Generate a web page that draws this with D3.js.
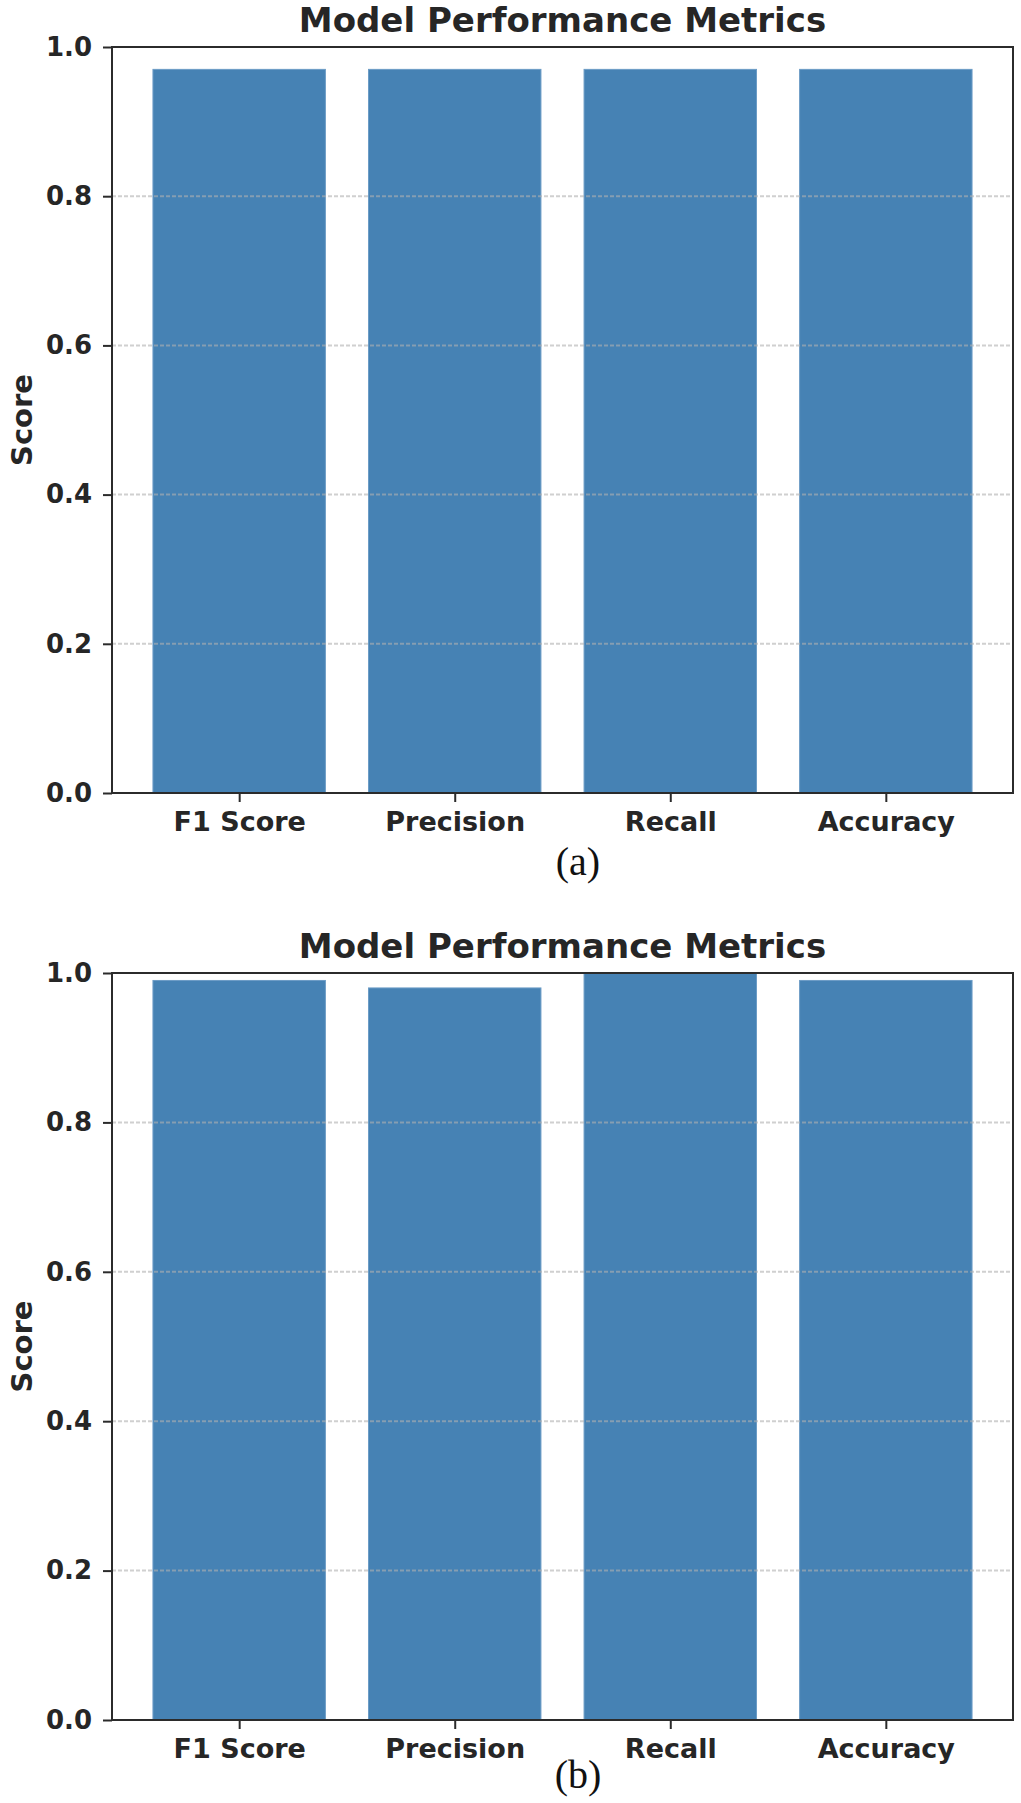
<!DOCTYPE html>
<html>
<head>
<meta charset="utf-8">
<script src="https://cdn.jsdelivr.net/npm/d3@7"></script>
<style>
  html, body { margin: 0; padding: 0; background: #fff; }
  svg { display: block; }
</style>
</head>
<body>
<svg id="chart" width="1021" height="1803"></svg>
<script>
const categories = ["F1 Score", "Precision", "Recall", "Accuracy"];
const scoresA = [0.97, 0.97, 0.97, 0.97];
const scoresB = [0.99, 0.98, 1.0, 0.99];
const yTicks = [0.0, 0.2, 0.4, 0.6, 0.8, 1.0];
const gridTicks = [0.2, 0.4, 0.6, 0.8];
const chartTitle = "Model Performance Metrics";
const yLabel = "Score";
const panelLabels = ["(a)", "(b)"];

const svg = d3.select("#chart");
const barColor = "#4682b4";
const axisColor = "#2b2b2b";
const textColor = "#262626";
const font = "'DejaVu Sans', sans-serif";

const panels = [
  { values: scoresA, label: panelLabels[0], top: 47, bottom: 793, labelY: 875 },
  { values: scoresB, label: panelLabels[1], top: 973, bottom: 1720, labelY: 1788 }
];

const left = 112, right = 1013;

panels.forEach(p => {
  const g = svg.append("g");
  const x = d3.scaleLinear().domain([-0.59, categories.length - 1 + 0.59]).range([left, right]);
  const y = d3.scaleLinear().domain([0, 1]).range([p.bottom, p.top]);

  // bars
  g.selectAll("rect.bar").data(p.values).enter().append("rect")
    .attr("class", "bar")
    .attr("x", (d, i) => x(i - 0.4))
    .attr("width", (d, i) => x(i + 0.4) - x(i - 0.4))
    .attr("y", d => y(d))
    .attr("height", d => y(0) - y(d))
    .attr("fill", barColor)
    .attr("stroke", "#6c9cc6")
    .attr("stroke-width", 1);

  // grid
  g.selectAll("line.grid").data(gridTicks).enter().append("line")
    .attr("x1", left).attr("x2", right)
    .attr("y1", d => y(d)).attr("y2", d => y(d))
    .attr("stroke", "#b0b0b0").attr("stroke-opacity", 0.6)
    .attr("stroke-width", 2)
    .attr("stroke-dasharray", "4,2");

  // y axis
  const yAxis = d3.axisLeft(y).tickValues(yTicks).tickFormat(d3.format(".1f")).tickSize(9).tickPadding(11);
  const ya = g.append("g").attr("transform", `translate(${left},0)`).call(yAxis);
  ya.select(".domain").remove();
  ya.selectAll(".tick line").attr("stroke", axisColor).attr("stroke-width", 2);
  ya.selectAll(".tick text").attr("font-family", font).attr("font-weight", "bold")
    .attr("font-size", 26).attr("fill", textColor);

  // x axis
  const xAxis = d3.axisBottom(x).tickValues(d3.range(categories.length))
    .tickFormat(i => categories[i]).tickSize(9).tickPadding(10);
  const xa = g.append("g").attr("transform", `translate(0,${p.bottom})`).call(xAxis);
  xa.select(".domain").remove();
  xa.selectAll(".tick line").attr("stroke", axisColor).attr("stroke-width", 2);
  xa.selectAll(".tick text").attr("font-family", font).attr("font-weight", "bold")
    .attr("font-size", 27).attr("fill", textColor);

  // frame
  g.append("rect")
    .attr("x", left).attr("y", p.top)
    .attr("width", right - left).attr("height", p.bottom - p.top)
    .attr("fill", "none").attr("stroke", axisColor).attr("stroke-width", 2);

  // title
  g.append("text")
    .attr("x", (left + right) / 2).attr("y", p.top - 15)
    .attr("text-anchor", "middle")
    .attr("font-family", font).attr("font-weight", "bold").attr("font-size", 34)
    .attr("fill", textColor)
    .text(chartTitle);

  // y label
  g.append("text")
    .attr("transform", `translate(32,${(p.top + p.bottom) / 2}) rotate(-90)`)
    .attr("text-anchor", "middle")
    .attr("font-family", font).attr("font-weight", "bold").attr("font-size", 29)
    .attr("fill", textColor)
    .text(yLabel);

  // panel label
  g.append("text")
    .attr("x", 578).attr("y", p.labelY)
    .attr("text-anchor", "middle")
    .attr("font-family", "'Liberation Serif', 'Times New Roman', serif")
    .attr("font-size", 40).attr("fill", "#111")
    .text(p.label);
});
</script>
</body>
</html>
